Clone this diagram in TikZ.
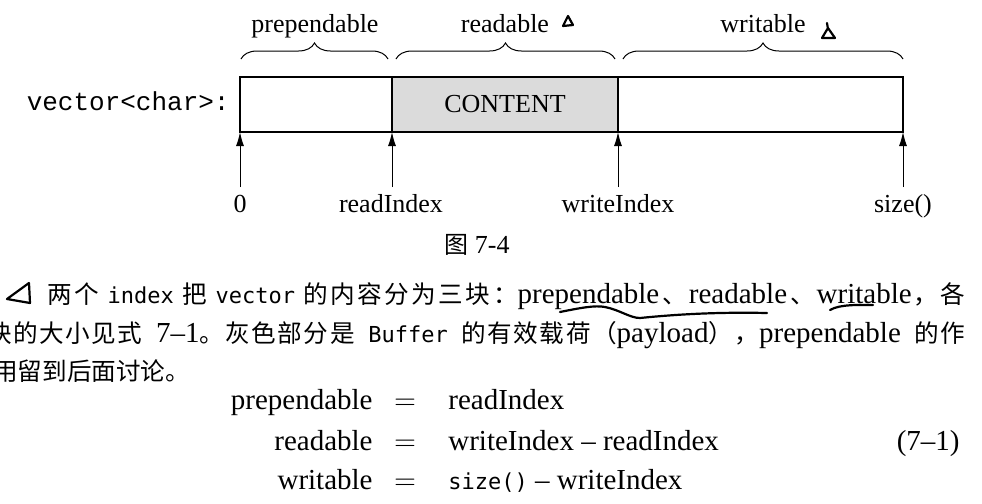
\documentclass[tikz,border=0pt]{standalone}
\usepackage{fontspec}
\setmainfont{Liberation Serif}
\setmonofont{Liberation Mono}
\newfontfamily\cjk{Noto Sans CJK SC}
\newfontfamily\codefam{DejaVu Sans Mono}
\usetikzlibrary{positioning,arrows.meta,decorations.pathreplacing}

% small helpers for the running text
\newcommand{\ltn}[1]{{\rmfamily\fontsize{14.5}{17}\selectfont #1}}
\newcommand{\codew}[1]{{\codefam\fontsize{11}{13}\selectfont #1}}

\begin{document}
\begin{tikzpicture}[x=0.5pt,y=-0.5pt,
  seg/.style={draw,line width=0.6pt,minimum height=27.5pt,inner sep=0,outer sep=0},
  idx/.style={line width=0.5pt,-{Latex[length=7pt,width=4pt]}},
  span/.style={decorate,decoration={brace,amplitude=8pt},line width=0.5pt},
  lbl/.style={font=\fontsize{13}{15}\selectfont,inner sep=0},
  txt/.style={font=\cjk\fontsize{12.3}{15}\selectfont,inner sep=0,anchor=base west},
  eq/.style={font=\fontsize{14.5}{17}\selectfont,inner sep=0},
  pen/.style={line width=1.1pt,line cap=round,line join=round}]
\useasboundingbox (0,0) rectangle (982,504);
\clip (0,0) rectangle (982,504);

% the buffer
\node[seg,minimum width=76pt,anchor=north west] (pre) at (240,77) {};
\node[seg,lbl,minimum width=113pt,fill=gray!28,right=0pt of pre] (cont) {\fontsize{13}{15}\selectfont CONTENT};
\node[seg,minimum width=142.5pt,right=0pt of cont] (wrt) {};
\node[lbl,font=\ttfamily\fontsize{13}{15}\selectfont,anchor=base east] (vec) at (230,110) {vector<char>:};

% braces and their names
\node[lbl,anchor=base] (npre) at (315,32) {prependable};
\node[lbl,anchor=base] (nread) at (505,32) {readable};
\node[lbl,anchor=base] (nwrt) at (763,32) {writable};
\draw[span] (241,59) -- (388,59);
\draw[span] (396,59) -- (615,59);
\draw[span] (623,59) -- (903,59);

% indices
\node[lbl,anchor=base] (i0) at (240,212) {0};
\node[lbl,anchor=base] (i1) at (391,212) {readIndex};
\node[lbl,anchor=base] (i2) at (618,212) {writeIndex};
\node[lbl,anchor=base] (i3) at (903,212) {size()};
\coordinate (t0) at (240,187);
\coordinate (t1) at (392,187);
\coordinate (t2) at (618,187);
\coordinate (t3) at (903,187);
\draw[idx] (t0) -- (pre.south west);
\draw[idx] (t1) -- (pre.south east);
\draw[idx] (t2) -- (cont.south east);
\draw[idx] (t3) -- (wrt.south east);

\node[lbl,anchor=base] (cap) at (477,253) {{\cjk\fontsize{12}{14}\selectfont 图} 7-4};

% running text
\node[txt] (l1) at (47,303) {\addfontfeature{LetterSpace=10}\makebox[459pt][s]{两个 \codew{index} 把 \codew{vector} 的内容分为三块：\ltn{prependable}\hspace{1.5pt}、\hspace{1pt}\ltn{readable}\hspace{1.5pt}、\hspace{1pt}\ltn{writable}\hspace{1pt}，各}};
\node[txt] (l2) at (-13,342) {\addfontfeature{LetterSpace=6}\makebox[489pt][s]{块的大小见式 \ltn{7--1}。灰色部分是 \codew{Buffer} 的有效载荷（\ltn{payload}），\ltn{prependable} 的作}};
\node[txt] (l3) at (-7,380) {用留到后面讨论。};

% equation 7-1
\node[eq,anchor=base east] (e1l) at (373,409) {prependable};
\node[eq,anchor=base east] (e2l) at (373,450) {readable};
\node[eq,anchor=base east] (e3l) at (373,489) {writable};
\node[eq,anchor=base] (e1m) at (405,409) {$=$};
\node[eq,anchor=base] (e2m) at (405,450) {$=$};
\node[eq,anchor=base] (e3m) at (405,489) {$=$};
\node[eq,anchor=base west] (e1r) at (448,409) {readIndex};
\node[eq,anchor=base west] (e2r) at (448,450) {writeIndex -- readIndex};
\node[eq,anchor=base west] (e3r) at (448,489) {\codew{size()} -- writeIndex};
\node[eq,anchor=base east] (enum) at (960,450) {(7--1)};

% pen marks
\draw[pen] (563,26) -- (568,16) -- (573,25) -- cycle;
\draw[pen] (827,23) -- (828,29) (822,38) -- (828,28) -- (835,38) -- cycle;
\draw[pen] (29,283) -- (7,299) -- (30,303) -- (29,283);
\draw[pen] (560,312) .. controls (580,308) and (595,305) .. (605,307)
  .. controls (620,310) and (630,318) .. (640,318)
  .. controls (680,314) and (720,312) .. (767,313);
\draw[pen] (830,310) .. controls (840,304) and (860,305) .. (873,305);
\end{tikzpicture}
\end{document}
